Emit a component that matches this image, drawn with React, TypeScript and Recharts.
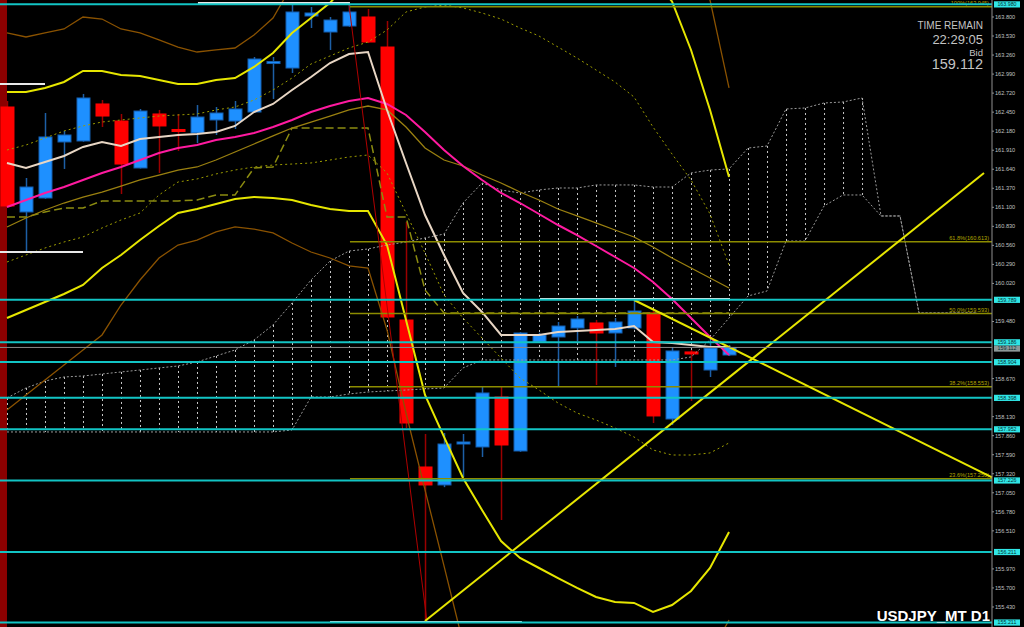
import { ComposedChart, Bar, Line, XAxis, YAxis, ReferenceLine, ReferenceArea } from 'recharts'

const W = 1024
const H = 627
const FONT = '"Liberation Sans", Arial, sans-serif'

// daily candles (USDJPY D1)
const opens = [162.523, 161.034, 161.232, 162.027, 162.041, 162.566, 162.324, 161.658, 162.424, 162.204, 162.154, 162.339, 162.324, 162.452, 163.154, 163.076, 163.814, 163.587, 163.672, 163.800, 163.374, 159.501, 157.416, 157.161, 157.742, 157.700, 158.409, 157.643, 159.189, 159.260, 159.388, 159.459, 159.317, 159.388, 159.601, 158.097, 159.048, 158.792, 159.005]
const highs = [162.608, 161.516, 162.438, 162.183, 162.708, 162.622, 162.424, 162.495, 162.481, 162.424, 162.551, 162.523, 162.608, 163.232, 163.232, 163.998, 163.942, 163.800, 163.970, 163.913, 163.743, 160.892, 157.884, 157.898, 157.884, 158.551, 158.565, 159.330, 159.320, 159.473, 159.558, 159.501, 159.530, 159.785, 159.629, 159.104, 159.076, 159.260, 159.147]
const lows = [161.100, 160.466, 161.220, 161.644, 162.030, 162.239, 161.289, 161.650, 161.587, 161.899, 162.012, 162.126, 162.211, 162.440, 162.637, 163.005, 163.644, 163.332, 163.660, 163.430, 159.530, 157.969, 155.230, 157.130, 157.274, 157.558, 156.664, 157.630, 159.180, 158.565, 159.200, 158.579, 158.835, 159.370, 158.040, 158.012, 158.352, 158.693, 158.990]
const closes = [161.119, 161.388, 162.098, 162.126, 162.651, 162.395, 161.714, 162.466, 162.254, 162.190, 162.381, 162.438, 162.495, 163.204, 163.168, 163.871, 163.857, 163.757, 163.871, 163.445, 159.544, 158.040, 157.161, 157.742, 157.771, 158.466, 157.728, 159.317, 159.289, 159.416, 159.516, 159.317, 159.473, 159.629, 158.140, 159.062, 159.019, 159.104, 159.112]

// indicators
const tenkan = [161.729, 161.658, 161.743, 161.828, 161.956, 162.027, 161.970, 162.069, 162.098, 162.126, 162.140, 162.168, 162.254, 162.452, 162.566, 162.764, 162.949, 163.147, 163.275, 163.303, 162.481, 161.729, 160.991, 160.424, 159.885, 159.615, 159.289, 159.289, 159.289, 159.331, 159.345, 159.360, 159.374, 159.416, 159.189, 159.175, 159.147, 159.118, 159.118]
const kijun = [160.963, 160.963, 161.034, 161.090, 161.090, 161.190, 161.190, 161.190, 161.190, 161.190, 161.204, 161.275, 161.275, 161.658, 161.672, 162.225, 162.225, 162.225, 162.225, 162.225, 160.963, 160.963, 159.927, 159.601, 159.601, 159.601, 159.601, 159.601, 159.601, 159.601, 159.601, 159.601, 159.601, 159.601, 159.601, 159.601, 159.601, 159.601, 159.601]
const maPink = [161.104, 161.204, 161.303, 161.388, 161.488, 161.587, 161.672, 161.771, 161.871, 161.941, 161.984, 162.055, 162.098, 162.154, 162.239, 162.339, 162.452, 162.537, 162.608, 162.651, 162.566, 162.410, 162.168, 161.913, 161.686, 161.488, 161.303, 161.161, 161.005, 160.849, 160.707, 160.551, 160.395, 160.239, 160.041, 159.799, 159.530, 159.260, 159.005]
const maOlive = [160.821, 160.948, 161.062, 161.161, 161.246, 161.317, 161.402, 161.488, 161.558, 161.629, 161.672, 161.771, 161.885, 161.998, 162.112, 162.225, 162.310, 162.395, 162.481, 162.537, 162.481, 162.239, 161.941, 161.771, 161.686, 161.558, 161.445, 161.317, 161.204, 161.076, 160.977, 160.878, 160.778, 160.679, 160.537, 160.381, 160.239, 160.097, 159.955]
const bbUp1 = [161.913, 161.984, 162.083, 162.183, 162.254, 162.310, 162.339, 162.367, 162.395, 162.410, 162.424, 162.481, 162.523, 162.622, 162.764, 162.934, 163.133, 163.247, 163.360, 163.445, 163.615, 163.871, 163.942, 163.970, 163.928, 163.857, 163.771, 163.644, 163.530, 163.374, 163.218, 163.048, 162.878, 162.665, 162.239, 161.856, 161.488, 161.005, 160.282]
const bbLo1 = [160.324, 160.424, 160.523, 160.608, 160.679, 160.807, 160.920, 161.019, 161.275, 161.459, 161.502, 161.573, 161.629, 161.672, 161.700, 161.714, 161.729, 161.771, 161.814, 161.842, 161.587, 161.019, 160.452, 159.856, 159.530, 159.246, 158.962, 158.679, 158.508, 158.324, 158.182, 158.083, 157.969, 157.842, 157.657, 157.586, 157.586, 157.615, 157.757]
const bbUp2 = [162.736, 162.736, 162.793, 162.878, 163.034, 163.034, 162.977, 162.963, 162.906, 162.849, 162.849, 162.906, 162.934, 163.091, 163.289, 163.573, 163.786, 164.000, 164.300, 164.550, 164.900, 165.300, 165.600, 165.800, 165.900, 165.950, 165.900, 165.800, 165.600, 165.400, 165.200, 165.000, 164.800, 164.600, 164.350, 164.020, 163.332, 162.481, 161.530]
const bbLo2 = [159.530, 159.643, 159.757, 159.870, 159.998, 160.239, 160.424, 160.636, 160.835, 161.019, 161.076, 161.147, 161.218, 161.246, 161.232, 161.204, 161.133, 161.076, 161.048, 161.048, 160.565, 159.501, 158.438, 157.842, 157.260, 156.806, 156.366, 156.125, 155.983, 155.841, 155.700, 155.572, 155.501, 155.487, 155.359, 155.458, 155.657, 155.983, 156.494]
const bbUp3 = [163.573, 163.516, 163.573, 163.630, 163.800, 163.771, 163.630, 163.573, 163.474, 163.374, 163.303, 163.332, 163.360, 163.544, 163.786, 164.250, 164.600, 164.900, 165.200, 165.500, 165.800, 166.200, 166.500, 166.700, 166.800, 166.800, 166.700, 166.500, 166.300, 166.100, 165.900, 165.600, 165.300, 165.000, 164.700, 164.500, 164.300, 164.040, 162.793]
const bbLo3 = [158.225, 158.438, 158.650, 158.863, 159.076, 159.289, 159.714, 160.069, 160.381, 160.565, 160.636, 160.750, 160.821, 160.792, 160.736, 160.594, 160.466, 160.381, 160.268, 160.239, 159.360, 158.182, 157.090, 156.012, 154.920, 154.300, 153.900, 153.600, 153.400, 153.300, 153.300, 153.400, 153.600, 153.800, 154.000, 154.200, 154.450, 154.750, 155.246]

// ichimoku cloud (shifted forward)
const spanUpper = [158.395, 158.537, 158.636, 158.693, 158.707, 158.735, 158.764, 158.792, 158.821, 158.849, 158.906, 158.991, 159.076, 159.218, 159.431, 159.743, 160.069, 160.338, 160.480, 160.509, 160.565, 160.608, 160.665, 160.721, 161.161, 161.445, 161.346, 161.303, 161.346, 161.374, 161.374, 161.417, 161.417, 161.417, 161.388, 161.388, 161.587, 161.629, 161.644, 161.941, 161.970, 162.495, 162.509, 162.580, 162.594, 162.651, 160.977, 160.977, 159.601, 159.601, 159.601, 159.601]
const spanLower = [157.913, 157.913, 157.913, 157.913, 157.913, 157.913, 157.913, 157.913, 157.913, 157.913, 157.913, 157.913, 157.913, 157.913, 157.913, 157.941, 158.409, 158.409, 158.452, 158.480, 158.494, 158.508, 158.523, 158.537, 158.821, 158.934, 158.934, 158.934, 158.934, 158.934, 158.934, 158.934, 158.934, 158.934, 158.934, 158.934, 158.977, 159.218, 159.530, 159.842, 159.913, 160.622, 160.622, 161.119, 161.275, 161.275, 160.977, 160.977, 159.601, 159.601, 159.601, 159.601]

// price levels
const cyanLevels = [163.980, 159.789, 159.186, 158.904, 158.398, 157.952, 157.226, 156.211, 155.211]
const bidPrice = 159.112
const fibLevels = [
  { price: 163.945, label: '100%(163.945)' },
  { price: 160.613, label: '61.8%(160.613)' },
  { price: 159.593, label: '50.0%(159.593)' },
  { price: 158.553, label: '38.2%(158.553)' },
  { price: 157.250, label: '23.6%(157.250)' },
]
const fibStart = 18.05
// axis ticks hidden behind the level tags are left out
const yTicks = [163.8, 163.53, 163.26, 162.99, 162.72, 162.45, 162.18, 161.91, 161.64, 161.37, 161.1, 160.83, 160.56, 160.29, 160.02, 159.48, 158.67, 158.13, 157.86, 157.59, 157.32, 157.05, 156.78, 156.51, 155.97, 155.7, 155.43]

// drawn objects (bar index, price)
const yellowTrends = [
  { x1: 22, y1: 155.23, x2: 51.42, y2: 161.587 },
  { x1: 33, y1: 159.785, x2: 51.84, y2: 157.27 },
]
const redTrend = { x1: 18, y1: 163.97, x2: 22.1, y2: 155.23 }
const whiteMarks = [
  { x1: -0.37, x2: 2.0, y: 162.849 },
  { x1: -0.37, x2: 4.0, y: 160.466 },
  { x1: 10.05, x2: 18.05, y: 163.998 },
  { x1: 28.05, x2: 38.05, y: 159.799 },
  { x1: 17.0, x2: 27.1, y: 155.218 },
]

const X_DOMAIN: [number, number] = [-0.368, 51.84]
const Y_DOMAIN: [number, number] = [155.146, 164.041]

const data = spanUpper.map((sa, i) => ({
  x: i,
  o: opens[i],
  h: highs[i],
  l: lows[i],
  c: closes[i],
  tenkan: tenkan[i],
  kijun: kijun[i],
  maPink: maPink[i],
  maOlive: maOlive[i],
  bbUp1: bbUp1[i],
  bbLo1: bbLo1[i],
  bbUp2: bbUp2[i],
  bbLo2: bbLo2[i],
  bbUp3: bbUp3[i],
  bbLo3: bbLo3[i],
  sa,
  sb: spanLower[i],
}))

function Candle(props: any) {
  const { x, y, width, height, payload } = props
  if (!payload || payload.o == null) return null
  const { o, h, l, c } = payload
  const top0 = height < 0 ? y + height : y
  const hh = Math.abs(height)
  const k = h > l ? hh / (h - l) : 0
  const bTop = top0 + (h - Math.max(o, c)) * k
  const bBot = top0 + (h - Math.min(o, c)) * k
  const up = c >= o
  const cx = x + width / 2
  const bh = Math.max(bBot - bTop, 2)
  return (
    <g>
      <line x1={cx} x2={cx} y1={top0} y2={top0 + hh} stroke={up ? '#1d5fa6' : '#9a0000'} strokeWidth={1.5} />
      <rect x={x + 0.5} y={bTop} width={width - 1} height={bh} fill={up ? '#1e90ff' : '#ff0000'} stroke={up ? '#155fb0' : '#ff0000'} strokeWidth={1} />
    </g>
  )
}

function Hatch(props: any) {
  const { x, y, width, height } = props
  if (height == null || isNaN(height)) return null
  const top0 = height < 0 ? y + height : y
  const cx = x + width / 2
  return <line x1={cx} x2={cx} y1={top0} y2={top0 + Math.abs(height)} stroke="#c8c8c8" strokeWidth={1} strokeDasharray="2 3" />
}

function PriceTag({ viewBox, text, bg, shift = 0 }: any) {
  if (!viewBox) return null
  const x = viewBox.x + viewBox.width + 2
  const y = viewBox.y + shift
  return (
    <g>
      <rect x={x} y={y - 3} width={26} height={6.2} fill={bg} />
      <text x={x + 13} y={y + 1.9} textAnchor="middle" fontSize={5.3} fontFamily={FONT} fill="#053030">{text}</text>
    </g>
  )
}

function FibLabel({ viewBox, text }: any) {
  if (!viewBox) return null
  return (
    <text x={viewBox.x + viewBox.width - 3} y={viewBox.y - 1.5} textAnchor="end" fontSize={5.6} fontFamily={FONT} fill="#b4a400">{text}</text>
  )
}

const lineProps = { dot: false, activeDot: false, isAnimationActive: false, type: 'linear' as const }

export default function App() {
  return (
    <div style={{ position: 'relative', width: W, height: H, background: '#000' }}>
      <style>{'body{margin:0;background:#000;}'}</style>
      <ComposedChart width={W} height={H} data={data} margin={{ top: 0, right: 0, bottom: 0, left: 0 }}>
        <XAxis xAxisId="a" dataKey="x" type="number" domain={X_DOMAIN} allowDataOverflow hide />
        <XAxis xAxisId="b" dataKey="x" type="number" domain={X_DOMAIN} allowDataOverflow hide />
        <YAxis
          orientation="right"
          width={32}
          domain={Y_DOMAIN}
          allowDataOverflow
          ticks={yTicks}
          interval={0}
          tickFormatter={(v: number) => v.toFixed(3)}
          tick={{ fill: '#c0c0c0', fontSize: 5.6, fontFamily: FONT }}
          tickSize={2}
          tickMargin={1}
          tickLine={{ stroke: '#909090' }}
          axisLine={{ stroke: '#909090' }}
        />
        <ReferenceArea xAxisId="a" x1={X_DOMAIN[0]} x2={0} fill="#8b0000" fillOpacity={1} stroke="none" ifOverflow="visible" />

        <Bar xAxisId="b" dataKey={(d: any) => (d.sa != null && d.sb != null ? [Math.min(d.sa, d.sb), Math.max(d.sa, d.sb)] : null)} barSize={14} shape={<Hatch />} isAnimationActive={false} />
        <Line xAxisId="a" dataKey="sa" stroke="#9a9a9a" strokeWidth={1} strokeDasharray="2 2" {...lineProps} />
        <Line xAxisId="a" dataKey="sb" stroke="#9a9a9a" strokeWidth={1} strokeDasharray="2 2" {...lineProps} />

        <Line xAxisId="a" dataKey="bbUp3" stroke="#8a5200" strokeWidth={1.3} {...lineProps} />
        <Line xAxisId="a" dataKey="bbLo3" stroke="#8a5200" strokeWidth={1.3} {...lineProps} />
        <Line xAxisId="a" dataKey="bbUp1" stroke="#9c9c00" strokeWidth={1} strokeDasharray="2 3" {...lineProps} />
        <Line xAxisId="a" dataKey="bbLo1" stroke="#9c9c00" strokeWidth={1} strokeDasharray="2 3" {...lineProps} />
        <Line xAxisId="a" dataKey="kijun" stroke="#8c8c10" strokeWidth={1.5} strokeDasharray="8 4" {...lineProps} />
        <Line xAxisId="a" dataKey="maOlive" stroke="#9a8010" strokeWidth={1.3} {...lineProps} />

        <Bar xAxisId="a" dataKey={(d: any) => (d.o != null ? [d.l, d.h] : null)} barSize={14} shape={<Candle />} isAnimationActive={false} />

        <Line xAxisId="a" dataKey="bbUp2" stroke="#e6e600" strokeWidth={2} {...lineProps} />
        <Line xAxisId="a" dataKey="bbLo2" stroke="#e6e600" strokeWidth={2} {...lineProps} />
        <Line xAxisId="a" dataKey="maPink" stroke="#ff1aa0" strokeWidth={2} {...lineProps} />
        <Line xAxisId="a" dataKey="tenkan" stroke="#e8d6c4" strokeWidth={2} {...lineProps} />

        {fibLevels.map((f) => (
          <ReferenceLine key={f.label} xAxisId="a" segment={[{ x: fibStart, y: f.price }, { x: X_DOMAIN[1], y: f.price }]} stroke="#8c8c00" strokeWidth={1.5} ifOverflow="visible" label={<FibLabel text={f.label} />} />
        ))}
        {whiteMarks.map((m, i) => (
          <ReferenceLine key={'w' + i} xAxisId="a" segment={[{ x: m.x1, y: m.y }, { x: m.x2, y: m.y }]} stroke="#e8e8e8" strokeWidth={2} ifOverflow="visible" />
        ))}
        <ReferenceLine xAxisId="a" segment={[{ x: redTrend.x1, y: redTrend.y1 }, { x: redTrend.x2, y: redTrend.y2 }]} stroke="#b00000" strokeWidth={1} ifOverflow="visible" />
        {yellowTrends.map((t, i) => (
          <ReferenceLine key={'t' + i} xAxisId="a" segment={[{ x: t.x1, y: t.y1 }, { x: t.x2, y: t.y2 }]} stroke="#e6e600" strokeWidth={2} ifOverflow="visible" />
        ))}
        <ReferenceLine xAxisId="a" y={bidPrice} stroke="#8a8a8a" strokeWidth={1} label={<PriceTag text={bidPrice.toFixed(3)} bg="#8c9898" shift={1} />} />
        {cyanLevels.map((p) => (
          <ReferenceLine key={p} xAxisId="a" y={p} stroke="#12c4c4" strokeWidth={2} label={<PriceTag text={p.toFixed(3)} bg="#30e6e6" />} />
        ))}
      </ComposedChart>
      <svg width={W} height={H} style={{ position: 'absolute', left: 0, top: 0, pointerEvents: 'none' }}>
        <text x={983} y={29} textAnchor="end" fontSize={10} fontFamily={FONT} fill="#c4c4c4">TIME REMAIN</text>
        <text x={983} y={44} textAnchor="end" fontSize={13} fontFamily={FONT} fill="#c4c4c4">22:29:05</text>
        <text x={983} y={56} textAnchor="end" fontSize={9.5} fontFamily={FONT} fill="#c4c4c4">Bid</text>
        <text x={983} y={69} textAnchor="end" fontSize={14.5} fontFamily={FONT} fill="#c4c4c4">159.112</text>
        <text x={990} y={621} textAnchor="end" fontSize={15} fontWeight="bold" fontFamily={FONT} fill="#ffffff">USDJPY_MT D1</text>
      </svg>
    </div>
  )
}
